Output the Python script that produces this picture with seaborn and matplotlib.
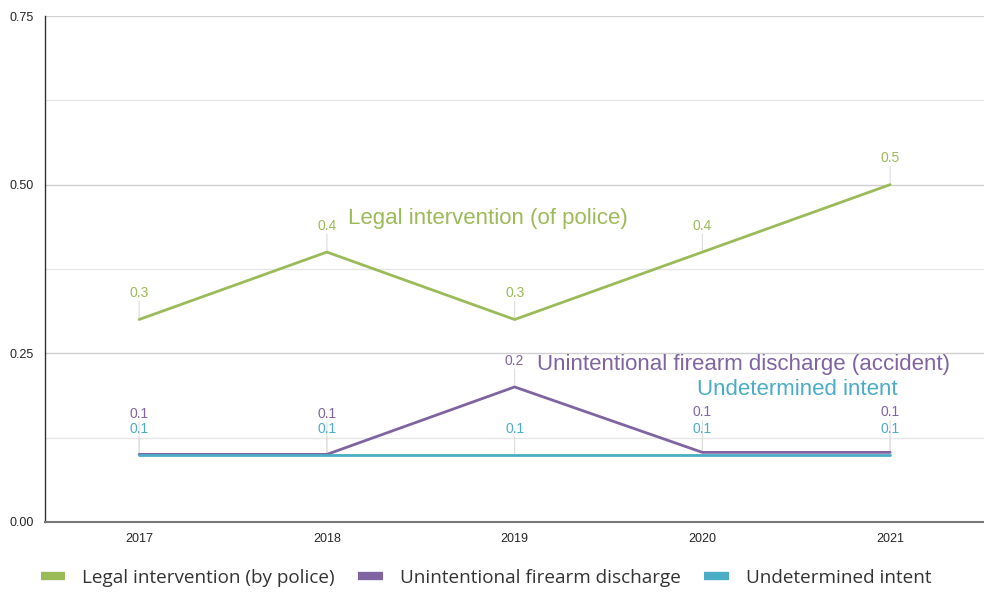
import matplotlib
matplotlib.use("Agg")
import matplotlib.pyplot as plt
from matplotlib.lines import Line2D
import seaborn as sns
import pandas as pd

years = ["2017", "2018", "2019", "2020", "2021"]
legal = [0.3, 0.4, 0.3, 0.4, 0.5]
accident = [0.1, 0.1, 0.2, 0.103, 0.103]
undetermined = [0.099, 0.099, 0.099, 0.099, 0.099]
legal_labels = ["0.3", "0.4", "0.3", "0.4", "0.5"]
accident_labels = ["0.1", "0.1", "0.2", "0.1", "0.1"]
undetermined_labels = ["0.1", "0.1", "0.1", "0.1", "0.1"]

series_names = ["Legal intervention (by police)", "Unintentional firearm discharge", "Undetermined intent"]
end_names = ["Legal intervention (of police)", "Unintentional firearm discharge (accident)", "Undetermined intent"]
colors = ["#9bbb59", "#8064a2", "#4bacc6"]

df = pd.DataFrame({
    "year": years * 3,
    "value": legal + accident + undetermined,
    "series": [series_names[0]] * 5 + [series_names[1]] * 5 + [series_names[2]] * 5,
})

sns.set_style("white")
plt.rcParams['font.family'] = ['Liberation Sans', 'DejaVu Sans']

fig = plt.figure(figsize=(9.84, 5.93), dpi=100)
ax = fig.add_axes([0.046, 0.12, 0.954, 0.853])

sns.lineplot(data=df, x="year", y="value", hue="series", palette=colors,
             linewidth=2, ax=ax, legend=False, sort=False, zorder=3)

ax.set_xlim(-0.5, 4.5)
ax.set_ylim(0, 0.75)
ax.set_yticks([0, 0.25, 0.5, 0.75])
ax.set_yticklabels(["0.00", "0.25", "0.50", "0.75"], fontsize=9)
ax.set_yticks([0.125, 0.375, 0.625], minor=True)
ax.tick_params(axis="x", labelsize=9, length=0, pad=8)
ax.tick_params(axis="y", length=0, pad=8)
ax.grid(axis="y", which="major", color="#d0d0d0", linewidth=1)
ax.grid(axis="y", which="minor", color="#e6e6e6", linewidth=1)
ax.set_axisbelow(True)
ax.set_xlabel("")
ax.set_ylabel("")
for s in ["top", "right"]:
    ax.spines[s].set_visible(False)
ax.spines["left"].set_color("#333333")
ax.spines["left"].set_linewidth(1)
ax.spines["bottom"].set_color("#777777")
ax.spines["bottom"].set_linewidth(1.5)


def label_points(vals, labels, color, offsets):
    for i, (v, t, off) in enumerate(zip(vals, labels, offsets)):
        ax.annotate(t, xy=(i, v), xytext=(0, off), textcoords="offset points",
                    ha="center", va="bottom", color=color, fontsize=10, zorder=4)
        ax.annotate("", xy=(i, v), xytext=(0, off - 1), textcoords="offset points",
                    arrowprops=dict(arrowstyle="-", color="#dddddd", lw=0.8,
                                    shrinkA=0, shrinkB=0), zorder=2)


label_points(legal, legal_labels, colors[0], [14] * 5)
label_points(undetermined, undetermined_labels, colors[2], [14] * 5)
label_points(accident, accident_labels, colors[1], [24, 24, 14, 24, 24])

# end-of-series labels
ax.text(1.11, 0.45, end_names[0], color=colors[0], fontsize=16, va="center", ha="left")
ax.text(2.12, 0.233, end_names[1], color=colors[1], fontsize=16, va="center", ha="left")
ax.text(4.04, 0.196, end_names[2], color=colors[2], fontsize=16, va="center", ha="right")

handles = [Line2D([0], [0], color=c, linewidth=6, solid_capstyle="butt") for c in colors]
fig.legend(handles, series_names, loc="lower left", bbox_to_anchor=(0.024, -0.018),
           ncol=3, frameon=False, handlelength=1.3, columnspacing=1.25,
           handletextpad=0.9, labelcolor="#333333",
           prop={"family": ["Open Sans", "DejaVu Sans"], "size": 13.6})

fig.savefig("out.png", dpi=100)
